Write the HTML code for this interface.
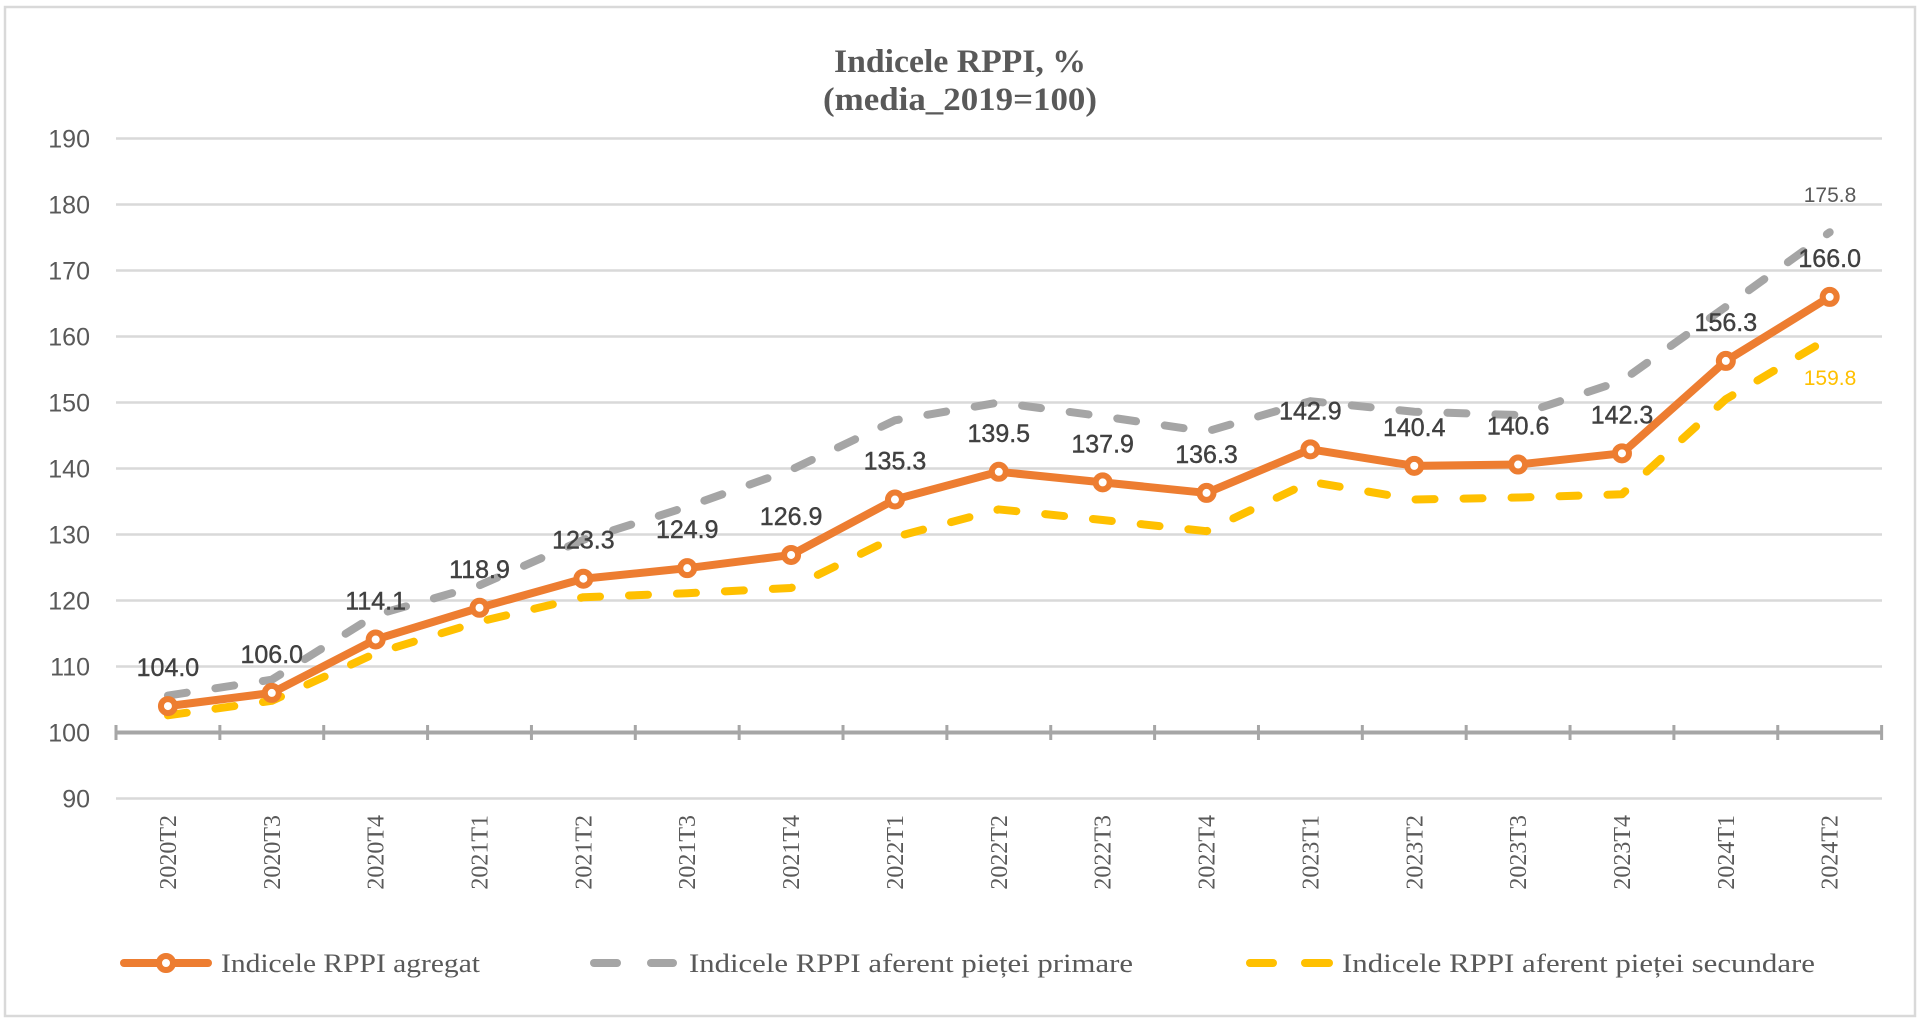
<!DOCTYPE html>
<html>
<head>
<meta charset="utf-8">
<style>
html,body{margin:0;padding:0;background:#fff;}
svg{display:block;}
</style>
</head>
<body>
<svg width="1922" height="1024" viewBox="0 0 1922 1024" xmlns="http://www.w3.org/2000/svg">
<rect x="0" y="0" width="1922" height="1024" fill="#fff"/>
<rect x="5" y="7" width="1910" height="1009" fill="#fff" stroke="#D9D9D9" stroke-width="2.5"/>

<!-- Title -->
<g font-family="'Liberation Serif', serif" font-weight="bold" fill="#595959" font-size="33" text-anchor="middle">
<text x="960" y="72" textLength="252" lengthAdjust="spacingAndGlyphs">Indicele RPPI, %</text>
<text x="960" y="110" textLength="274" lengthAdjust="spacingAndGlyphs">(media_2019=100)</text>
</g>

<!-- Gridlines -->
<g stroke="#D9D9D9" stroke-width="2.5">
<line x1="116" y1="138.5" x2="1882" y2="138.5"/>
<line x1="116" y1="204.5" x2="1882" y2="204.5"/>
<line x1="116" y1="270.5" x2="1882" y2="270.5"/>
<line x1="116" y1="336.5" x2="1882" y2="336.5"/>
<line x1="116" y1="402.5" x2="1882" y2="402.5"/>
<line x1="116" y1="468.5" x2="1882" y2="468.5"/>
<line x1="116" y1="534.5" x2="1882" y2="534.5"/>
<line x1="116" y1="600.5" x2="1882" y2="600.5"/>
<line x1="116" y1="666.5" x2="1882" y2="666.5"/>
<line x1="116" y1="798.5" x2="1882" y2="798.5"/>
</g>

<!-- Y labels -->
<g font-family="'Liberation Sans', sans-serif" font-size="25" fill="#595959" text-anchor="end">
<text x="90" y="147.5">190</text>
<text x="90" y="213.5">180</text>
<text x="90" y="279.5">170</text>
<text x="90" y="345.5">160</text>
<text x="90" y="411.5">150</text>
<text x="90" y="477.5">140</text>
<text x="90" y="543.5">130</text>
<text x="90" y="609.5">120</text>
<text x="90" y="675.5">110</text>
<text x="90" y="741.5">100</text>
<text x="90" y="807.5">90</text>
</g>

<!-- Axis -->
<g stroke="#A6A6A6">
<line x1="116" y1="732.5" x2="1882" y2="732.5" stroke-width="4"/>
<g stroke-width="3">
<line x1="116" y1="725" x2="116" y2="740"/>
<line x1="219.86" y1="725" x2="219.86" y2="740"/>
<line x1="323.72" y1="725" x2="323.72" y2="740"/>
<line x1="427.58" y1="725" x2="427.58" y2="740"/>
<line x1="531.44" y1="725" x2="531.44" y2="740"/>
<line x1="635.3" y1="725" x2="635.3" y2="740"/>
<line x1="739.16" y1="725" x2="739.16" y2="740"/>
<line x1="843.02" y1="725" x2="843.02" y2="740"/>
<line x1="946.88" y1="725" x2="946.88" y2="740"/>
<line x1="1050.74" y1="725" x2="1050.74" y2="740"/>
<line x1="1154.6" y1="725" x2="1154.6" y2="740"/>
<line x1="1258.46" y1="725" x2="1258.46" y2="740"/>
<line x1="1362.32" y1="725" x2="1362.32" y2="740"/>
<line x1="1466.18" y1="725" x2="1466.18" y2="740"/>
<line x1="1570.04" y1="725" x2="1570.04" y2="740"/>
<line x1="1673.9" y1="725" x2="1673.9" y2="740"/>
<line x1="1777.76" y1="725" x2="1777.76" y2="740"/>
<line x1="1881.62" y1="725" x2="1881.62" y2="740"/>
</g>
</g>

<!-- X labels -->
<g font-family="'Liberation Serif', serif" font-size="24" fill="#595959" text-anchor="end">
<text transform="translate(175.93,815) rotate(-90)">2020T2</text>
<text transform="translate(279.79,815) rotate(-90)">2020T3</text>
<text transform="translate(383.65,815) rotate(-90)">2020T4</text>
<text transform="translate(487.51,815) rotate(-90)">2021T1</text>
<text transform="translate(591.37,815) rotate(-90)">2021T2</text>
<text transform="translate(695.23,815) rotate(-90)">2021T3</text>
<text transform="translate(799.09,815) rotate(-90)">2021T4</text>
<text transform="translate(902.95,815) rotate(-90)">2022T1</text>
<text transform="translate(1006.81,815) rotate(-90)">2022T2</text>
<text transform="translate(1110.67,815) rotate(-90)">2022T3</text>
<text transform="translate(1214.53,815) rotate(-90)">2022T4</text>
<text transform="translate(1318.39,815) rotate(-90)">2023T1</text>
<text transform="translate(1422.25,815) rotate(-90)">2023T2</text>
<text transform="translate(1526.11,815) rotate(-90)">2023T3</text>
<text transform="translate(1629.97,815) rotate(-90)">2023T4</text>
<text transform="translate(1733.83,815) rotate(-90)">2024T1</text>
<text transform="translate(1837.69,815) rotate(-90)">2024T2</text>
</g>

<!-- Aggregate line (orange) -->
<polyline fill="none" stroke="#ED7D31" stroke-width="8" stroke-linejoin="round" stroke-linecap="round"
points="167.93,706.1 271.79,692.9 375.65,639.44 479.51,607.76 583.37,578.72 687.23,568.16 791.09,554.96 894.95,499.52 998.81,471.8 1102.67,482.36 1206.53,492.92 1310.39,449.36 1414.25,465.86 1518.11,464.54 1621.97,453.32 1725.83,360.92 1829.69,296.9"/>

<!-- Primary (gray dashed) -->
<polyline fill="none" stroke="#A5A5A5" stroke-width="8" stroke-linejoin="round" stroke-linecap="round" stroke-dasharray="19 29"
points="167.93,695.54 271.79,679.7 375.65,615.02 479.51,585.32 583.37,539.78 687.23,506.78 791.09,469.82 894.95,420.32 998.81,402.5 1102.67,416.36 1206.53,431.54 1310.39,401.18 1414.25,411.74 1518.11,415.04 1621.97,380.72 1725.83,306.8 1829.69,232.22"/>

<!-- Secondary (yellow dashed) -->
<polyline fill="none" stroke="#FFC000" stroke-width="8" stroke-linejoin="round" stroke-linecap="round" stroke-dasharray="19 29"
points="167.93,715.34 271.79,700.82 375.65,653.3 479.51,621.62 583.37,597.2 687.23,593.24 791.09,587.96 894.95,537.14 998.81,509.42 1102.67,519.98 1206.53,531.2 1310.39,481.7 1414.25,499.52 1518.11,497.54 1621.97,494.24 1725.83,399.2 1829.69,337.82"/>

<!-- Markers -->
<g fill="#fff" stroke="#ED7D31" stroke-width="6">
<circle cx="167.93" cy="706.1" r="7"/>
<circle cx="271.79" cy="692.9" r="7"/>
<circle cx="375.65" cy="639.44" r="7"/>
<circle cx="479.51" cy="607.76" r="7"/>
<circle cx="583.37" cy="578.72" r="7"/>
<circle cx="687.23" cy="568.16" r="7"/>
<circle cx="791.09" cy="554.96" r="7"/>
<circle cx="894.95" cy="499.52" r="7"/>
<circle cx="998.81" cy="471.8" r="7"/>
<circle cx="1102.67" cy="482.36" r="7"/>
<circle cx="1206.53" cy="492.92" r="7"/>
<circle cx="1310.39" cy="449.36" r="7"/>
<circle cx="1414.25" cy="465.86" r="7"/>
<circle cx="1518.11" cy="464.54" r="7"/>
<circle cx="1621.97" cy="453.32" r="7"/>
<circle cx="1725.83" cy="360.92" r="7"/>
<circle cx="1829.69" cy="296.9" r="7"/>
</g>

<!-- Data labels aggregate -->
<g font-family="'Liberation Sans', sans-serif" font-size="25" fill="#404040" stroke="#404040" stroke-width="0.4" text-anchor="middle">
<text x="167.93" y="676.1">104.0</text>
<text x="271.79" y="662.9">106.0</text>
<text x="375.65" y="609.44">114.1</text>
<text x="479.51" y="577.76">118.9</text>
<text x="583.37" y="548.72">123.3</text>
<text x="687.23" y="538.16">124.9</text>
<text x="791.09" y="524.96">126.9</text>
<text x="894.95" y="469.52">135.3</text>
<text x="998.81" y="441.8">139.5</text>
<text x="1102.67" y="452.36">137.9</text>
<text x="1206.53" y="462.92">136.3</text>
<text x="1310.39" y="419.36">142.9</text>
<text x="1414.25" y="435.86">140.4</text>
<text x="1518.11" y="434.54">140.6</text>
<text x="1621.97" y="423.32">142.3</text>
<text x="1725.83" y="330.92">156.3</text>
<text x="1829.69" y="266.9">166.0</text>
</g>
<g font-family="'Liberation Sans', sans-serif" font-size="21" text-anchor="middle">
<text x="1830" y="202" fill="#595959">175.8</text>
<text x="1830" y="385" fill="#FFC000">159.8</text>
</g>

<!-- Legend -->
<line x1="124" y1="963" x2="208" y2="963" stroke="#ED7D31" stroke-width="8" stroke-linecap="round"/>
<circle cx="166" cy="963" r="7" fill="#fff" stroke="#ED7D31" stroke-width="6"/>
<line x1="594" y1="963" x2="617" y2="963" stroke="#A5A5A5" stroke-width="8" stroke-linecap="round"/>
<line x1="651" y1="963" x2="673" y2="963" stroke="#A5A5A5" stroke-width="8" stroke-linecap="round"/>
<line x1="1250" y1="963" x2="1273" y2="963" stroke="#FFC000" stroke-width="8" stroke-linecap="round"/>
<line x1="1305" y1="963" x2="1329" y2="963" stroke="#FFC000" stroke-width="8" stroke-linecap="round"/>
<g font-family="'Liberation Serif', serif" font-size="26" fill="#595959">
<text x="221" y="972" textLength="259" lengthAdjust="spacingAndGlyphs">Indicele RPPI agregat</text>
<text x="689" y="972" textLength="444" lengthAdjust="spacingAndGlyphs">Indicele RPPI aferent pieței primare</text>
<text x="1342" y="972" textLength="473" lengthAdjust="spacingAndGlyphs">Indicele RPPI aferent pieței secundare</text>
</g>
</svg>
</body>
</html>
